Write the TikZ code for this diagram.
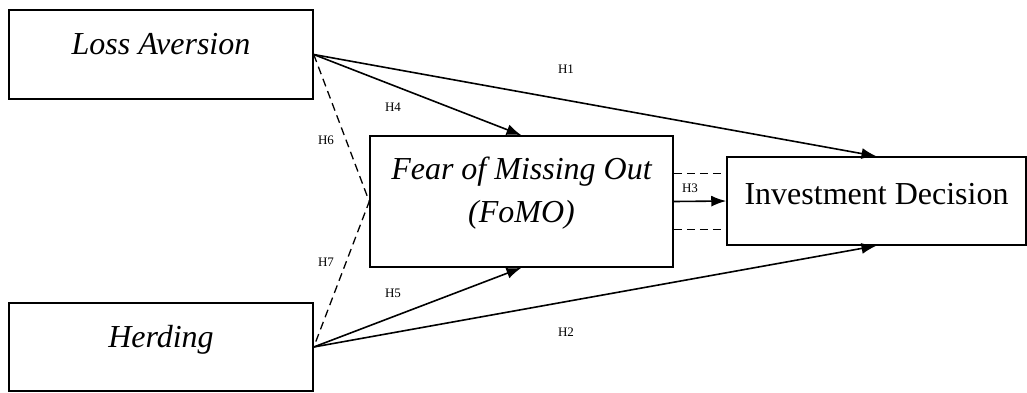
\documentclass[tikz,border=0pt]{standalone}
\usepackage{fontspec}
\setmainfont{Liberation Serif}
\usetikzlibrary{positioning,arrows.meta}

\begin{document}
\begin{tikzpicture}[
  x=1pt, y=-1pt,
  box/.style={draw, line width=1.5pt, inner sep=0pt, align=center,
              font=\fontsize{32}{43}\selectfont},
  hyp/.style={font=\fontsize{13}{15}\selectfont, inner sep=0pt},
  ar/.style={-{Latex[length=15pt,width=11pt]}, line width=1.6pt},
  dsh/.style={dash pattern=on 8pt off 5pt, line width=1.3pt}
]
  \useasboundingbox (0,0) rectangle (1027,392);

  % constructs
  \node[box, minimum width=304pt, minimum height=89pt, text height=24pt, text depth=24pt]
    (loss) at (161,54.5) {\itshape Loss Aversion};
  \node[box, minimum width=304pt, minimum height=88pt, text height=24pt, text depth=24pt]
    (herd) at (161,347) {\itshape Herding};
  \node[box, minimum width=303pt, minimum height=131pt] (fomo) at (521.5,201.5) {};
  \node[font=\fontsize{32}{43}\selectfont\itshape, align=center, inner sep=0pt]
    (fomotxt) at ([yshift=8pt]fomo.center) {Fear of Missing Out\\ (FoMO)};
  \node[box, minimum width=299pt, minimum height=88pt, text height=22pt, text depth=16pt]
    (inv) at (876.5,201) {Investment Decision};

  % hypotheses
  \node[hyp] (h1) at (566,69) {H1};
  \node[hyp] (h2) at (566,332) {H2};
  \node[hyp] (h3) at (690,188) {H3};
  \node[hyp] (h4) at (393,107) {H4};
  \node[hyp] (h5) at (393,293) {H5};
  \node[hyp] (h6) at (326,140) {H6};
  \node[hyp] (h7) at (326,262) {H7};

  \draw[ar] (loss.east) -- (inv.north);
  \draw[ar] (herd.east) -- (inv.south);
  \draw[ar] (loss.east) -- (fomo.north);
  \draw[ar] (herd.east) -- (fomo.south);
  \draw[ar] (fomo.east) -- (inv.west);
  \draw[dsh] (loss.east) -- (fomo.west) -- (herd.east);
  \draw[dsh] ([yshift=28pt]fomo.east) -- ([yshift=28pt]fomo.east -| inv.west);
  \draw[dsh] ([yshift=-28pt]fomo.east) -- ([yshift=-28pt]fomo.east -| inv.west);
\end{tikzpicture}
\end{document}
